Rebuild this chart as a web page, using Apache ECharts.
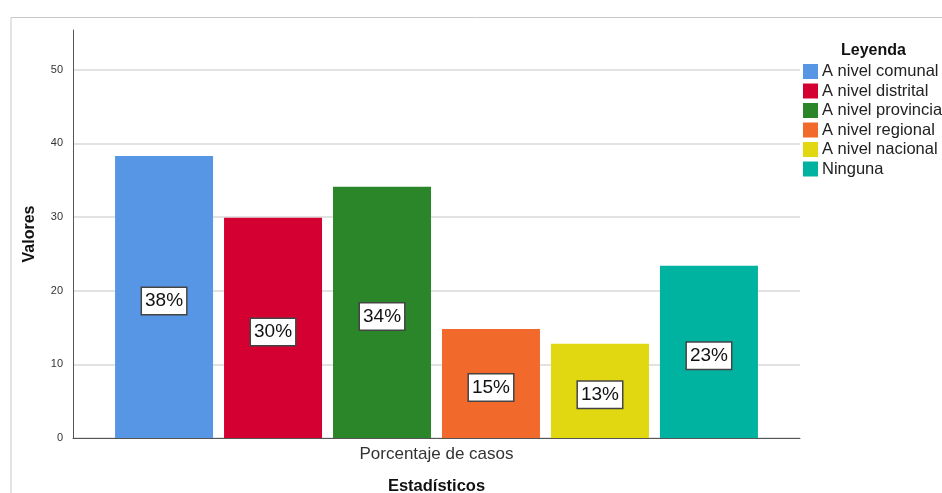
<!DOCTYPE html>
<html><head><meta charset="utf-8">
<script src="https://cdn.jsdelivr.net/npm/echarts@6/dist/echarts.min.js"></script>
<style>html,body{margin:0;padding:0;background:#fff}#c{width:942px;height:493px}</style>
</head><body><div id="c"></div>
<script>
const categories = ['Porcentaje de casos'];
const seriesNames = ['A nivel comunal','A nivel distrital','A nivel provincial','A nivel regional','A nivel nacional','Ninguna'];
const seriesValues = [38.3, 29.9, 34.1, 14.8, 12.8, 23.4];
const labelTexts = ['38%','30%','34%','15%','13%','23%'];
const colors = ['#5796E4','#D50032','#2A8629','#F2692C','#E2D812','#00B2A0'];
const yTicks = [0,10,20,30,40,50];

const font = 'Liberation Sans, Arial, sans-serif';
const chart = echarts.init(document.getElementById('c'));
chart.setOption({
  animation:false,
  textStyle:{fontFamily:font},
  color:colors,
  graphic:[
    {type:'polyline', shape:{points:[[11,493],[11,17.5],[942,17.5]]}, style:{stroke:'#c8c8c8', fill:null, lineWidth:1}},
    {type:'text', left:841, top:43, style:{text:'Leyenda', font:'bold 16px '+font, fill:'#111'}}
  ],
  legend:{
    orient:'vertical', left:803, top:63, padding:0, itemWidth:15, itemHeight:15, itemGap:2.5,
    icon:'rect',
    textStyle:{fontSize:16.5, lineHeight:15, color:'#222', padding:[0,0,0,-1], fontFamily:font},
    data:seriesNames
  },
  grid:{left:73, right:142, top:30, bottom:55, containLabel:false, outerBoundsMode:'none'},
  xAxis:{
    type:'category', data:categories,
    name:'Estadísticos', nameLocation:'middle', nameGap:40,
    nameTextStyle:{fontWeight:'bold', fontSize:16.5, color:'#111'},
    axisLine:{lineStyle:{color:'#555'}}, axisTick:{show:false},
    axisLabel:{fontSize:17, color:'#333', margin:8}
  },
  yAxis:{
    type:'value', min:0, max:55.4, interval:10,
    name:'Valores', nameLocation:'middle', nameGap:35, nameRotate:90,
    nameTextStyle:{fontWeight:'bold', fontSize:16, color:'#111'},
    axisLine:{show:true, lineStyle:{color:'#555'}}, axisTick:{show:false},
    axisLabel:{fontSize:11, color:'#333', margin:10, showMaxLabel:false,
      formatter:v=> yTicks.includes(v) ? String(v) : ''},
    splitLine:{show:true, showMaxLine:false, lineStyle:{color:'#d9d9d9', width:1.5}}
  },
  series: seriesNames.map((n,i)=>({
    name:n, type:'bar', data:[seriesValues[i]],
    barWidth:98, barGap:'11.2%',
    itemStyle:{color:colors[i]},
    label:{show:true, position:'inside', offset:[0,4], formatter:labelTexts[i],
      backgroundColor:'#fff', borderColor:'#444', borderWidth:1.5,
      padding:[4,3,3,3], fontSize:19, color:'#111', fontFamily:font}
  }))
});
</script></body></html>
